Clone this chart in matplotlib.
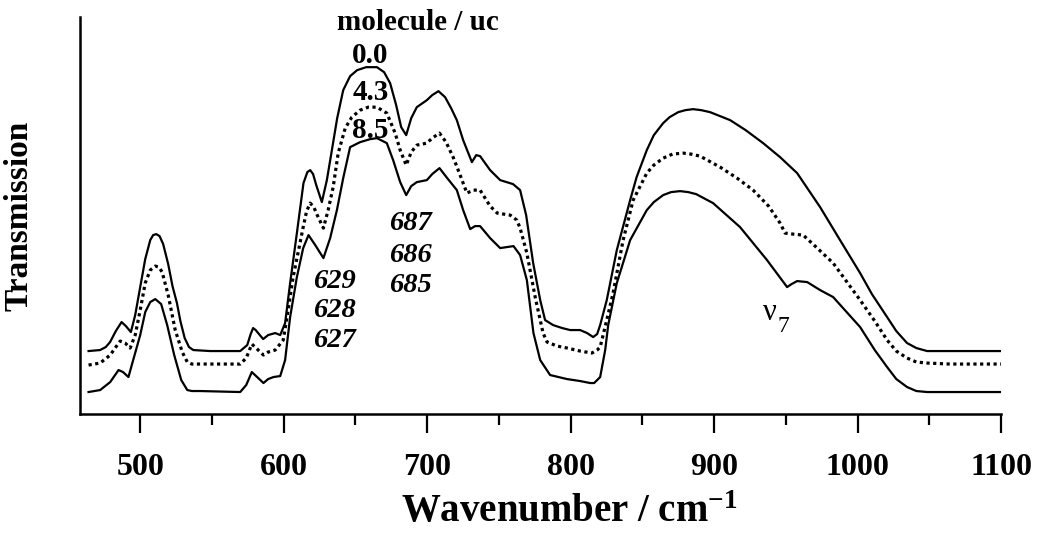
import matplotlib
matplotlib.use('Agg')
import matplotlib.pyplot as plt

plt.rcParams['font.family'] = ['Liberation Serif', 'DejaVu Serif']
plt.rcParams['mathtext.fontset'] = 'custom'
plt.rcParams['mathtext.rm'] = 'Liberation Serif'
plt.rcParams['mathtext.it'] = 'Liberation Serif:italic'
plt.rcParams['mathtext.bf'] = 'Liberation Serif:bold'

# 0.0 molecule / uc
wn_00 = [464, 472, 476, 479, 483, 487, 490, 493.5, 496.5, 500, 503.5, 507, 509, 511.2, 513.5, 516,
         519.5, 522.5, 525.6, 528, 531, 534, 537, 548.8, 569.7, 574.6, 577, 578.7, 580.5, 582.2,
         585.7, 589.2, 594.1, 597.6, 601, 604.5, 609.2, 613.8, 616.5, 618.5, 620.5, 622.7, 626.6,
         630.1, 633.6, 637.3, 641.5, 646.3, 651.2, 657.5, 665, 670, 674.2, 678.4, 681.9, 685.4,
         688.9, 692.8, 699.8, 703.5, 707.9, 712.5, 716.7, 720.7, 725.1, 731.2, 734.2, 736.9, 743.9,
         750.9, 759.9, 764.8, 769, 773.9, 778.8, 782.2, 787.8, 794.1, 799.7, 806.6, 811.5, 815.7,
         818.5, 820.6, 825.2, 832.2, 841.5, 846, 853.1, 858, 864.5, 869, 875, 880, 885.4, 891,
         897.2, 911.2, 922, 934.2, 946, 957.9, 973.9, 987.8, 1001.8, 1010, 1020.6, 1027, 1034.5,
         1041, 1048.5, 1064.5, 1100]
tr_00 = [0.63, 0.64, 0.67, 0.72, 0.83, 0.92, 0.88, 0.82, 0.99, 1.27, 1.55, 1.74, 1.79, 1.80, 1.78, 1.70,
         1.50, 1.28, 1.11, 0.93, 0.76, 0.67, 0.64, 0.63, 0.63, 0.69, 0.80, 0.86, 0.84, 0.81,
         0.75, 0.79, 0.81, 0.79, 0.91, 1.31, 1.81, 2.31, 2.42, 2.44, 2.40, 2.29, 2.12,
         2.34, 2.64, 2.96, 3.24, 3.38, 3.44, 3.47, 3.47, 3.42, 3.31, 3.09, 2.87, 2.79,
         2.96, 3.07, 3.14, 3.19, 3.23, 3.17, 3.06, 2.94, 2.74, 2.52, 2.59, 2.58, 2.44,
         2.34, 2.30, 2.24, 1.99, 1.51, 1.14, 0.94, 0.89, 0.86, 0.84, 0.84, 0.81, 0.77,
         0.80, 0.89, 1.14, 1.64, 2.14, 2.37, 2.64, 2.79, 2.91, 2.97, 3.02, 3.04, 3.05, 3.04,
         3.02, 2.94, 2.84, 2.71, 2.57, 2.41, 2.07, 1.74, 1.41, 1.20, 0.97, 0.83, 0.71,
         0.66, 0.63, 0.63, 0.63]

# 4.3 molecule / uc
wn_43 = [464, 472.1, 479.1, 483, 486.1, 489.5, 493, 496.5, 500, 503.5, 507, 510.5, 513, 515.3, 519.5,
         524.4, 529.3, 532.8, 536, 541.8, 569.7, 573.9, 577.8, 581.5, 585.9, 589.2, 594.1, 599.7,
         603.1, 606.6, 613.6, 616, 618.5, 621, 623.4, 627.7, 631, 634.5, 638, 642.9, 647.5, 653.3,
         659, 665, 671.9, 677.7, 681.2, 685.4, 688.9, 692.8, 699.8, 703.5, 708.6, 713.2, 718.1, 723,
         727.7, 732.1, 736.9, 743.9, 748.8, 757.9, 762.5, 764.8, 769.5, 775.3, 780.8, 783.6, 790.6,
         797.6, 806.6, 814.8, 818.5, 820.6, 825.2, 829.6, 836.6, 843.6, 853.1, 858, 864.5, 871,
         878.4, 884, 890.2, 904.2, 916, 927.2, 938, 946, 949.5, 955, 962.1, 970.4, 983, 1001.8,
         1012, 1020.6, 1027, 1034.5, 1041, 1048.5, 1064.5, 1100]
tr_43 = [0.49, 0.51, 0.59, 0.67, 0.73, 0.71, 0.66, 0.79, 1.04, 1.31, 1.44, 1.48, 1.47, 1.42, 1.19,
         0.84, 0.62, 0.52, 0.50, 0.50, 0.50, 0.56, 0.70, 0.65, 0.59, 0.62, 0.64, 0.74,
         1.04, 1.37, 1.87, 2.03, 2.11, 2.07, 1.99, 1.86, 2.04, 2.27, 2.61, 2.86, 2.97, 3.04,
         3.07, 3.07, 3.01, 2.81, 2.64, 2.49, 2.62, 2.69, 2.71, 2.76, 2.81, 2.72, 2.57, 2.39,
         2.21, 2.24, 2.24, 2.08, 2.01, 1.99, 1.94, 1.86, 1.61, 1.17, 0.81, 0.72, 0.68,
         0.66, 0.63, 0.61, 0.64, 0.67, 0.94, 1.21, 1.74, 2.14, 2.41, 2.49, 2.56, 2.60,
         2.61, 2.60, 2.58, 2.47, 2.36, 2.24, 2.08, 1.91, 1.81, 1.80, 1.79, 1.68, 1.51, 1.14,
         0.93, 0.74, 0.63, 0.56, 0.52, 0.51, 0.50, 0.50]

# 8.5 molecule / uc
wn_85 = [464, 472.1, 479.1, 484.9, 488, 491.8, 495.1, 500, 503.5, 507, 510.5, 514.6, 518.8, 523.7,
         528.6, 532.8, 536, 541.8, 569.7, 573.9, 577.8, 581.5, 585.9, 589.2, 592.9, 597.6, 601,
         604.5, 609.2, 613.6, 617.3, 622, 627.7, 632.4, 637.1, 641.5, 646.3, 653.3, 660.3, 665,
         671.9, 676.3, 681.2, 685.4, 688.9, 692.8, 699.8, 703.5, 708.6, 714, 720.7, 725.1, 730,
         733.4, 736.9, 743.9, 750.9, 760.2, 764.8, 769.5, 774.1, 778.8, 785.7, 797.4, 806.6, 813.6,
         816.4, 820.6, 824.1, 826.2, 832.2, 841.5, 853.1, 858, 864.5, 870, 876.3, 882, 887.5, 899.3,
         918.1, 936.9, 950.9, 954, 957.9, 964.9, 973.9, 983, 1001.8, 1012, 1020.6, 1027, 1034.5,
         1041, 1048.5, 1064.5, 1100]
tr_85 = [0.22, 0.24, 0.32, 0.44, 0.42, 0.37, 0.54, 0.79, 1.02, 1.12, 1.15, 1.10, 0.89, 0.59,
         0.34, 0.24, 0.23, 0.23, 0.22, 0.29, 0.42, 0.37, 0.31, 0.35, 0.37, 0.38, 0.54,
         0.97, 1.37, 1.66, 1.79, 1.69, 1.56, 1.76, 2.04, 2.36, 2.67, 2.72, 2.75, 2.76,
         2.71, 2.54, 2.32, 2.19, 2.28, 2.32, 2.34, 2.40, 2.46, 2.36, 2.24, 2.04, 1.85,
         1.88, 1.88, 1.76, 1.66, 1.68, 1.59, 1.34, 0.81, 0.54, 0.39, 0.35, 0.33, 0.31,
         0.31, 0.37, 0.64, 0.89, 1.31, 1.74, 2.04, 2.12, 2.19, 2.22, 2.23, 2.22, 2.20, 2.11,
         1.87, 1.54, 1.27, 1.30, 1.33, 1.32, 1.24, 1.17, 0.87, 0.64, 0.47, 0.35, 0.27,
         0.23, 0.22, 0.22, 0.22]

loadings = ['0.0', '4.3', '8.5']
peaks_629 = ['629', '628', '627']
peaks_687 = ['687', '686', '685']

fig = plt.figure(figsize=(10.37, 5.37), dpi=100)
ax = fig.add_axes([0.0771, 0.229, 0.8882, 0.739])

ax.plot(wn_00, tr_00, color='black', lw=1.6)
ax.plot(wn_43, tr_43, color='black', lw=2.3, linestyle=(0, (1.0, 1.1)))
ax.plot(wn_85, tr_85, color='black', lw=1.6)

ax.set_xlim(458, 1100)
ax.set_ylim(0, 3.97)
ax.set_yticks([])
ax.set_xticks(range(500, 1101, 100))
ax.set_xticks(range(550, 1100, 100), minor=True)
ax.tick_params(axis='x', which='major', length=14, width=1.6, pad=14, labelsize=23)
ax.tick_params(axis='x', which='minor', length=8, width=1.6)
for lab in ax.get_xticklabels():
    lab.set_fontweight('bold')
for s in ['top', 'right']:
    ax.spines[s].set_visible(False)
for s in ['left', 'bottom']:
    ax.spines[s].set_linewidth(1.8)

ax.set_xlabel(r'Wavenumber / cm$^{\mathbf{-1}}$', fontsize=28, fontweight='bold')
ax.set_ylabel('Transmission', fontsize=24, fontweight='bold')
ax.xaxis.set_label_coords(0.531, -0.202)
ax.yaxis.set_label_coords(-0.049, 0.5)

ax.text(693.4, 3.84, 'molecule / uc', fontsize=21, fontweight='bold', ha='center', va='baseline')
for lab, y in zip(loadings, [3.51, 3.14, 2.76]):
    ax.text(660.6, y, lab, fontsize=21, fontweight='bold', ha='center', va='baseline')
for lab, y in zip(peaks_629, [1.26, 0.97, 0.67]):
    ax.text(635.2, y, lab, fontsize=20.5, fontweight='bold', style='italic', ha='center', va='baseline')
for lab, y in zip(peaks_687, [1.84, 1.52, 1.22]):
    ax.text(688.2, y, lab, fontsize=20.5, fontweight='bold', style='italic', ha='center', va='baseline')
ax.text(934.1, 0.94, 'ν', fontsize=22, ha='left', va='baseline')
ax.text(943.9, 0.82, '7', fontsize=17, ha='left', va='baseline')

fig.savefig('out.png', dpi=100)
